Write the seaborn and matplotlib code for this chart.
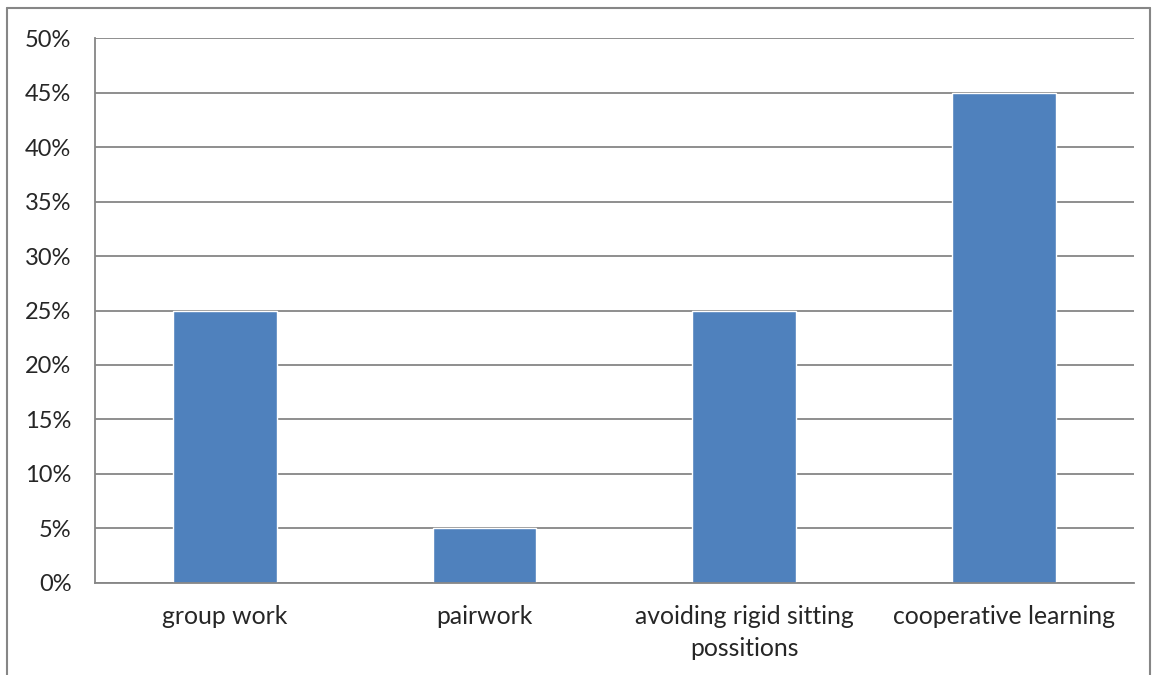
import matplotlib
matplotlib.use("Agg")
import matplotlib.pyplot as plt
import seaborn as sns
import pandas as pd
from matplotlib.ticker import FuncFormatter, MultipleLocator
from matplotlib.lines import Line2D

categories = ["group work", "pairwork", "avoiding rigid sitting\npossitions", "cooperative learning"]
values = [25, 5, 25, 45]

data = pd.DataFrame({"category": categories, "value": values})

sns.set_style("white")
plt.rcParams["font.family"] = ["Lato", "DejaVu Sans"]

fig = plt.figure(figsize=(11.52, 6.75), dpi=100)
ax = fig.add_axes([0.0825, 0.1363, 0.9015, 0.8074])

sns.barplot(x="category", y="value", data=data, color="#4F81BD", saturation=1,
            width=0.4, errorbar=None, ax=ax)

grid_col = "#868686"
ax.set_ylim(0, 50)
ax.set_xlim(-0.5, 3.5)
ax.yaxis.set_major_locator(MultipleLocator(5))
ax.yaxis.set_major_formatter(FuncFormatter(lambda v, p: f"{int(v)}%"))
ax.yaxis.grid(True, color=grid_col, linewidth=1.3)
ax.set_axisbelow(True)

# x ticks at category boundaries, labels centered
ax.set_xticks([-0.5, 0.5, 1.5, 2.5, 3.5])
ax.set_xticklabels([])
ax.set_xticks([0, 1, 2, 3], minor=True)
ax.set_xticklabels(categories, minor=True, va="top")
ax.tick_params(axis="x", which="minor", length=0, pad=16, labelsize=17.8)
ax.tick_params(axis="x", which="major", length=6, width=1.3, color=grid_col, direction="out")
ax.tick_params(axis="y", length=6, width=1.3, color=grid_col, direction="out", labelsize=17, pad=11)
for lbl in ax.get_xticklabels(minor=True):
    lbl.set_linespacing(1.45)

for side in ["top", "right"]:
    ax.spines[side].set_visible(False)
for side in ["left", "bottom"]:
    ax.spines[side].set_color(grid_col)
    ax.spines[side].set_linewidth(1.3)

ax.set_xlabel("")
ax.set_ylabel("")

# outer chart frame
W, H = 1152, 675
x0, y0, x1 = 7 / W, 1 - 8 / H, 1150 / W
for xs, ys in [([x0, x1], [y0, y0]), ([x0, x0], [y0, 0]), ([x1, x1], [y0, 0])]:
    fig.add_artist(Line2D(xs, ys, color=grid_col, linewidth=1.5, transform=fig.transFigure))

plt.savefig("out.png", dpi=100)
